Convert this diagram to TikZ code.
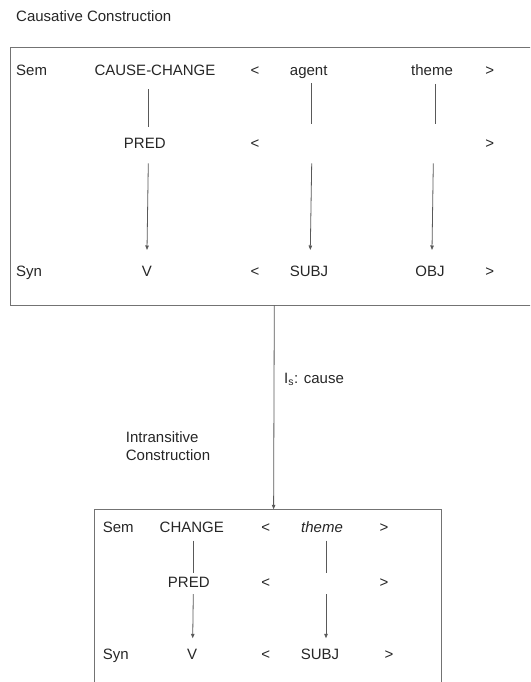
\documentclass[tikz,border=0pt]{standalone}
\usepackage{fontspec}
\setmainfont{Liberation Sans}
\usetikzlibrary{arrows.meta}
\begin{document}
\begin{tikzpicture}[x=1pt,y=-1pt,
  lbl/.style={anchor=base,inner sep=0pt,font=\fontsize{15}{18}\selectfont,text=black!85},
  lblw/.style={lbl,anchor=base west},
  link/.style={draw=black!65,line width=0.8pt},
  arr/.style={link,-{Triangle[length=4.5pt,width=3.5pt]}},
  frame/.style={draw=black!55,line width=0.9pt,rectangle,inner sep=0pt,anchor=north west}]
\useasboundingbox (0,0) rectangle (530,682);
\clip (0,0) rectangle (530,682);

% boxes (clipped at the picture's edge)
\node[frame,minimum width=560pt,minimum height=257.8pt] (topbox) at (10,47.5) {};
\node[frame,minimum width=347pt,minimum height=200pt] (botbox) at (94,509.3) {};

% title
\node[lblw] (title) at (16,21.4) {Causative Construction};

% top box texts
\node[lblw] (sem1) at (16,76) {Sem};
\node[lbl] (cc) at (155,76) {CAUSE-CHANGE};
\node[lbl] (lt1) at (255,76) {<};
\node[lbl] (agent) at (308.7,76) {agent};
\node[lbl] (theme1) at (432,76) {theme};
\node[lbl] (gt1) at (489.7,76) {>};
\node[lbl] (pred1) at (144.8,148.7) {PRED};
\node[lbl] (lt2) at (255,148.7) {<};
\node[lbl] (gt2) at (489.7,148.7) {>};
\node[lblw] (syn1) at (16,276) {Syn};
\node[lbl] (v1) at (147,276) {V};
\node[lbl] (lt3) at (255,276) {<};
\node[lbl] (subj1) at (309,276) {SUBJ};
\node[lbl] (obj1) at (430,276) {OBJ};
\node[lbl] (gt3) at (489.7,276) {>};

% top box connectors
\coordinate (ccB) at (148.3,89.3);   \coordinate (pred1T) at (148.3,127);
\coordinate (pred1B) at (148.3,163.3); \coordinate (v1T) at (147,250);
\coordinate (agB) at (311,83.3);     \coordinate (agM) at (311,124.3);
\coordinate (agM2) at (311.7,163.3); \coordinate (subj1T) at (310.3,250);
\coordinate (thB) at (435,84);       \coordinate (thM) at (435,124.3);
\coordinate (thM2) at (433.3,163.3); \coordinate (obj1T) at (432,250);
\draw[link] (ccB) -- (pred1T);
\draw[arr] (pred1B) -- (v1T);
\draw[link] (agB) -- (agM);
\draw[arr] (agM2) -- (subj1T);
\draw[link] (thB) -- (thM);
\draw[arr] (thM2) -- (obj1T);

% link between constructions
\coordinate (cTop) at (274.3,305.3);
\coordinate (cBot) at (273.6,509.3);
\draw[arr] (cTop) -- (cBot);
\node[lblw] (islbl) at (284,383) {I\textsubscript{s}: cause};

\node[lblw] (intr1) at (125.7,442) {Intransitive};
\node[lblw] (intr2) at (125.7,460.4) {Construction};

% bottom box texts
\node[lblw] (sem2) at (102.7,532) {Sem};
\node[lbl] (ch) at (191.8,532) {CHANGE};
\node[lbl] (lt4) at (265.7,532) {<};
\node[lbl] (theme2) at (322,532) {\itshape theme};
\node[lbl] (gt4) at (384,532) {>};
\node[lbl] (pred2) at (188.8,587) {PRED};
\node[lbl] (lt5) at (265.7,587) {<};
\node[lbl] (gt5) at (384,587) {>};
\node[lblw] (syn2) at (102.7,659.4) {Syn};
\node[lbl] (v2) at (192,659.4) {V};
\node[lbl] (lt6) at (265.7,659.4) {<};
\node[lbl] (subj2) at (320,659.4) {SUBJ};
\node[lbl] (gt6) at (389,659.4) {>};

% bottom box connectors
\coordinate (chB) at (193.3,540.7);  \coordinate (pred2T) at (193.3,572.7);
\coordinate (pred2B) at (193.3,594); \coordinate (v2T) at (192.7,638.3);
\coordinate (th2B) at (326,540.7);   \coordinate (th2M) at (326,572.7);
\coordinate (th2M2) at (326,594);    \coordinate (subj2T) at (326,638.3);
\draw[link] (chB) -- (pred2T);
\draw[arr] (pred2B) -- (v2T);
\draw[link] (th2B) -- (th2M);
\draw[arr] (th2M2) -- (subj2T);
\end{tikzpicture}
\end{document}
